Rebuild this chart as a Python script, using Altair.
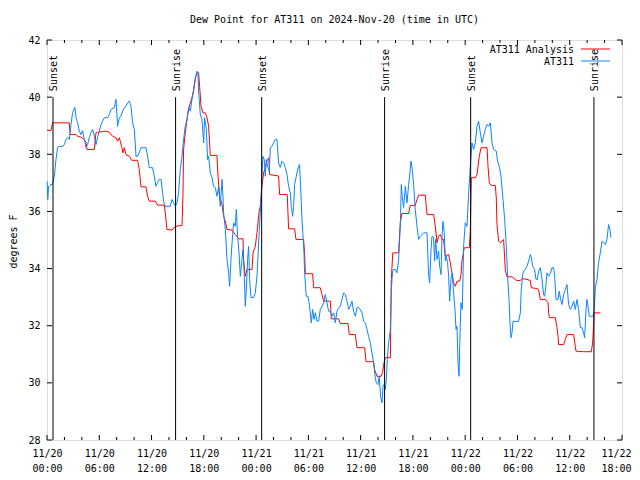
import altair as alt
import pandas as pd

# ---------------- data (hours since 2024-11-20 00:00 UTC, dew point degF) -------------
at311_hours = [0.01, 0.09, 0.18, 0.46, 0.64, 0.84, 1.03, 1.22, 1.41, 1.79, 1.99, 2.18, 2.36, 2.56,
               2.75, 2.94, 3.21, 3.33, 3.51, 3.71, 3.90, 4.09, 4.28, 4.48, 4.66, 4.86, 5.05, 5.23,
               5.43, 5.62, 5.81, 6.00, 6.20, 6.38, 6.58, 6.96, 7.15, 7.35, 7.73, 7.92, 8.10, 8.30,
               8.49, 8.68, 8.87, 9.07, 9.25, 9.45, 9.64, 9.83, 10.02, 10.22, 10.40, 10.59, 10.79,
               11.36, 11.55, 11.74, 12.12, 12.32, 12.51, 12.70, 12.89, 13.09, 13.27, 13.38, 13.58,
               14.15, 14.35, 14.53, 14.73, 14.92, 15.11, 15.30, 15.50, 15.68, 15.87, 16.07, 16.25,
               16.45, 16.64, 16.83, 17.02, 17.22, 17.33, 17.40, 17.60, 17.79, 17.98, 18.09, 18.29,
               18.43, 18.55, 18.74, 18.94, 19.12, 19.32, 19.51, 19.70, 19.89, 20.09, 20.20, 20.27,
               20.47, 20.66, 20.85, 20.96, 21.12, 21.24, 21.42, 21.61, 21.73, 21.88, 22.04, 22.19,
               22.38, 22.50, 22.65, 22.76, 22.88, 23.03, 23.14, 23.26, 23.42, 23.71, 23.91, 24.10,
               24.22, 24.37, 24.48, 24.60, 24.71, 24.79, 24.94, 25.06, 25.17, 25.32, 25.52, 25.63,
               25.83, 26.01, 26.21, 26.40, 26.58, 26.78, 26.97, 27.16, 27.35, 27.55, 27.73, 27.93,
               28.04, 28.19, 28.31, 28.42, 28.58, 28.73, 28.88, 28.99, 29.11, 29.19, 29.27, 29.38,
               29.50, 29.57, 29.65, 29.76, 29.96, 30.11, 30.22, 30.34, 30.49, 30.65, 30.80, 30.99,
               31.18, 31.37, 31.57, 31.75, 31.94, 32.14, 32.32, 32.52, 32.71, 32.90, 33.09, 33.29,
               33.47, 33.67, 33.86, 34.05, 34.24, 34.44, 34.62, 34.81, 35.01, 35.19, 35.39, 35.58,
               35.77, 35.96, 36.16, 36.34, 36.54, 36.73, 36.91, 37.11, 37.30, 37.49, 37.68, 37.80,
               37.99, 38.14, 38.29, 38.45, 38.57, 38.68, 38.83, 38.95, 39.06, 39.21, 39.41, 39.52,
               39.67, 39.78, 39.98, 40.17, 40.36, 40.55, 40.67, 40.78, 40.93, 41.13, 41.32, 41.51,
               41.62, 41.78, 41.93, 42.08, 42.27, 42.47, 42.65, 42.85, 43.23, 43.62, 43.80, 43.92,
               44.08, 44.19, 44.38, 44.49, 44.61, 44.77, 44.95, 45.07, 45.23, 45.34, 45.45, 45.60,
               45.72, 45.83, 45.98, 46.10, 46.21, 46.37, 46.52, 46.67, 46.83, 46.95, 47.06, 47.18,
               47.29, 47.41, 47.52, 47.67, 47.82, 48.01, 48.21, 48.39, 48.59, 48.78, 48.97, 49.16,
               49.36, 49.54, 49.74, 49.93, 50.11, 50.31, 50.51, 50.69, 50.89, 51.08, 51.26, 51.57,
               51.72, 51.92, 52.11, 52.34, 52.53, 52.72, 52.87, 53.03, 53.15, 53.26, 53.38, 53.49,
               53.75, 54.13, 54.33, 54.44, 54.59, 54.71, 54.90, 55.10, 55.28, 55.48, 55.59, 55.74,
               55.97, 56.13, 56.28, 56.43, 56.62, 56.82, 57.00, 57.12, 57.28, 57.39, 57.58, 57.77,
               57.97, 58.15, 58.27, 58.43, 58.66, 58.80, 58.95, 59.11, 59.30, 59.49, 59.69, 59.87,
               60.07, 60.26, 60.45, 60.64, 60.84, 61.02, 61.22, 61.41, 61.59, 61.71, 61.87, 61.98,
               62.10, 62.25, 62.48, 62.67, 62.82, 62.94, 63.13, 63.31, 63.51, 63.71, 63.89, 64.08,
               64.28, 64.46, 64.62, 64.73]
at311_dewpt = [37.05, 36.42, 36.87, 36.94, 36.94, 37.23, 37.82, 38.24, 38.28, 38.27, 38.34, 38.52,
               38.59, 38.52, 39.04, 39.46, 39.64, 39.29, 39.11, 38.81, 38.69, 38.83, 38.52, 38.24,
               38.34, 38.59, 38.76, 38.87, 38.63, 38.34, 38.59, 38.81, 39.04, 39.16, 39.28, 39.28,
               39.39, 39.57, 39.63, 39.92, 38.98, 39.28, 39.33, 39.51, 39.63, 39.68, 39.80, 39.86,
               39.68, 39.10, 38.87, 37.93, 37.93, 38.06, 38.23, 38.23, 37.93, 37.53, 37.53, 37.23,
               36.88, 37.01, 37.12, 37.12, 36.66, 36.36, 36.18, 36.18, 36.42, 36.30, 36.18, 36.30,
               36.66, 37.47, 37.93, 38.52, 38.98, 39.22, 39.63, 39.51, 39.92, 40.21, 40.62, 40.91,
               40.79, 40.21, 39.39, 39.22, 38.40, 39.28, 38.87, 37.82, 37.93, 37.35, 37.18, 36.88,
               36.83, 36.53, 36.88, 36.18, 37.12, 36.53, 35.95, 35.37, 34.32, 33.85, 33.38, 34.32,
               34.90, 35.60, 35.48, 36.07, 35.13, 34.55, 33.73, 34.32, 34.67, 33.73, 32.68, 33.27,
               34.32, 34.78, 33.62, 32.98, 32.98, 33.15, 33.73, 34.43, 35.37, 35.95, 36.65, 37.47,
               37.93, 37.82, 37.23, 37.82, 37.58, 37.41, 38.23, 38.28, 38.40, 38.52, 38.52, 37.70,
               37.54, 37.76, 37.70, 37.54, 37.29, 36.88, 36.65, 36.18, 35.83, 36.18, 36.94, 37.18,
               37.41, 37.58, 37.64, 36.88, 36.30, 35.66, 35.19, 34.55, 33.85, 33.50, 33.03, 33.03,
               32.74, 32.45, 32.10, 32.57, 32.22, 32.45, 32.16, 32.16, 32.57, 32.68, 32.80, 33.09,
               32.80, 32.51, 32.51, 32.33, 32.45, 32.10, 32.51, 32.63, 32.68, 32.92, 33.15, 33.09,
               32.86, 32.57, 32.68, 32.86, 32.51, 32.33, 32.63, 32.63, 32.57, 32.45, 32.16, 32.10,
               31.87, 31.63, 31.40, 31.05, 30.70, 30.18, 30.00, 29.94, 30.23, 29.53, 29.30, 29.88,
               29.94, 29.77, 30.12, 30.82, 31.40, 31.87, 33.27, 33.91, 33.97, 33.97, 33.85, 34.32,
               35.48, 36.94, 36.53, 36.13, 36.88, 36.30, 36.94, 37.23, 37.76, 37.47, 36.94, 36.07,
               35.48, 35.02, 35.13, 35.25, 35.25, 33.79, 33.50, 34.67, 35.13, 35.09, 34.26, 35.02,
               34.32, 34.61, 34.08, 33.79, 35.13, 35.66, 35.25, 34.26, 34.43, 34.20, 33.73, 32.86,
               33.62, 33.85, 33.15, 32.57, 31.87, 31.98, 30.70, 30.23, 31.75, 32.80, 32.57, 34.78,
               35.60, 35.48, 36.59, 37.58, 38.40, 38.17, 38.40, 38.98, 39.16, 38.75, 38.40, 38.63,
               38.87, 39.04, 38.98, 39.10, 38.40, 38.17, 38.11, 37.76, 37.58, 37.23, 36.42, 35.72,
               34.78, 33.73, 32.92, 32.04, 31.58, 31.76, 32.16, 32.15, 32.15, 32.45, 33.27, 33.79,
               33.91, 33.97, 34.08, 34.26, 34.49, 34.39, 34.08, 33.97, 33.62, 33.62, 33.91, 34.03,
               33.62, 33.09, 33.03, 33.44, 33.85, 33.73, 33.83, 34.03, 34.03, 33.73, 32.92, 32.92,
               33.21, 32.92, 32.74, 33.09, 33.27, 33.44, 32.74, 32.57, 32.68, 32.86, 32.57, 32.92,
               32.57, 31.93, 31.93, 31.75, 31.58, 32.57, 32.92, 32.68, 32.33, 32.33, 32.33, 32.57,
               33.33, 33.62, 34.20, 34.55, 34.96, 34.91, 34.84, 35.02, 35.54, 35.37, 35.08]

analysis_hours = [0.00, 0.46, 0.64, 2.56, 2.67, 3.33, 3.51, 3.90, 4.28, 4.48, 4.59, 5.43, 5.62,
                  5.81, 6.77, 7.15, 7.53, 7.92, 8.10, 8.30, 8.41, 8.56, 8.72, 8.87, 9.07, 9.45,
                  9.71, 10.40, 10.59, 10.79, 11.36, 11.55, 11.74, 12.43, 12.70, 13.46, 13.58,
                  13.77, 14.35, 14.73, 15.50, 15.61, 15.68, 15.87, 16.07, 16.25, 16.45, 16.64,
                  16.83, 17.02, 17.22, 17.40, 17.52, 17.68, 17.91, 18.17, 18.37, 18.55, 18.74,
                  19.51, 19.63, 19.81, 20.09, 20.27, 20.47, 20.66, 21.24, 21.61, 21.99, 22.50,
                  22.57, 22.76, 22.96, 23.53, 23.65, 23.91, 24.10, 24.33, 24.48, 24.68, 24.86,
                  25.06, 25.25, 25.46, 25.55, 26.58, 26.70, 27.58, 27.66, 27.73, 28.42, 28.58,
                  29.45, 29.57, 29.65, 30.49, 30.60, 31.37, 31.57, 31.75, 32.52, 32.63, 33.47,
                  33.67, 34.55, 34.70, 35.39, 35.58, 36.46, 36.62, 37.49, 37.60, 37.88, 38.37,
                  38.52, 38.68, 38.83, 39.41, 39.52, 39.69, 40.36, 40.55, 40.75, 41.51, 41.70,
                  42.27, 42.47, 42.65, 43.42, 43.62, 44.38, 44.57, 44.77, 44.95, 45.15, 45.34,
                  45.52, 45.72, 46.10, 46.29, 46.49, 46.67, 46.87, 47.06, 47.36, 47.52, 47.63,
                  47.90, 48.47, 48.59, 48.70, 49.16, 49.36, 49.47, 49.62, 49.82, 50.51, 50.62,
                  50.77, 51.00, 51.46, 51.57, 51.65, 51.84, 52.03, 52.41, 52.61, 52.80, 53.38,
                  53.75, 53.95, 54.33, 54.52, 55.10, 55.48, 55.59, 56.24, 56.43, 56.62, 57.20,
                  57.51, 57.58, 57.66, 58.35, 58.54, 58.66, 58.72, 59.30, 59.49, 59.69, 60.45,
                  60.64, 60.72, 61.59, 62.48, 62.63, 62.75, 62.82, 63.51]
analysis_dewpt = [38.84, 38.84, 39.10, 39.10, 38.69, 38.69, 38.63, 38.60, 38.52, 38.41, 38.17,
                  38.17, 38.75, 38.77, 38.81, 38.77, 38.63, 38.58, 38.46, 38.58, 38.46, 38.28,
                  38.05, 38.23, 37.99, 37.93, 37.79, 37.79, 37.47, 36.86, 36.86, 36.53, 36.36,
                  36.36, 36.22, 36.22, 35.95, 35.37, 35.35, 35.48, 35.51, 36.65, 38.17, 38.75,
                  39.22, 39.57, 39.80, 39.98, 40.27, 40.68, 40.85, 40.85, 40.38, 39.68, 39.45,
                  39.45, 39.28, 38.98, 37.96, 37.96, 37.23, 36.53, 36.24, 35.83, 35.66, 35.37,
                  35.35, 35.19, 35.04, 35.04, 34.32, 33.73, 33.97, 33.97, 34.55, 34.78, 35.25,
                  35.95, 36.18, 36.88, 37.35, 37.53, 37.76, 37.88, 37.29, 37.24, 36.59, 36.59,
                  35.95, 35.39, 35.39, 35.02, 35.02, 34.55, 33.82, 33.82, 33.33, 33.33, 33.09,
                  32.86, 32.86, 32.24, 32.24, 32.08, 32.08, 31.69, 31.69, 31.23, 31.23, 30.74,
                  30.74, 30.47, 30.23, 30.23, 30.36, 30.70, 30.88, 30.88, 33.62, 34.55, 34.55,
                  35.60, 35.93, 35.93, 36.21, 36.21, 36.42, 36.57, 36.57, 35.89, 35.89, 35.48,
                  34.90, 35.13, 35.19, 35.02, 35.02, 34.43, 34.49, 34.20, 33.85, 33.50, 33.38,
                  33.56, 33.56, 33.79, 34.26, 34.73, 34.73, 35.31, 37.18, 37.18, 37.29, 37.58,
                  37.93, 38.23, 38.23, 37.58, 37.00, 36.91, 36.91, 36.48, 35.54, 34.96, 34.90,
                  35.02, 33.93, 33.71, 33.71, 33.62, 33.58, 33.58, 33.65, 33.62, 33.58, 33.33,
                  33.30, 33.27, 32.92, 32.92, 32.80, 32.45, 32.28, 32.28, 31.93, 31.63, 31.34,
                  31.34, 31.51, 31.69, 31.69, 31.28, 31.11, 31.09, 31.09, 31.40, 32.10, 32.45,
                  32.45]

sun_hours = [0.69, 14.76, 24.64, 38.75, 48.63, 62.78]
sun_labels = ["Sunset", "Sunrise", "Sunset", "Sunrise", "Sunset", "Sunrise"]

major_x_ticks = list(range(0, 67, 6))
minor_x_ticks = [h for h in range(0, 67, 2) if h % 6 != 0]
y_ticks = [28, 30, 32, 34, 36, 38, 40, 42]

series_names = ["AT311 Analysis", "AT311"]
series_colors = ["#FF0000", "#0A84FF"]
title_text = "Dew Point for AT311 on 2024-Nov-20 (time in UTC)"

# ---------------- chart ----------------
FONT = "DejaVu Sans Mono"
FS = 10
W, H = 575, 400
LAST = major_x_ticks[-1]

xs = alt.Scale(domain=[0, 66], nice=False, zero=False)
ys = alt.Scale(domain=[28, 42], nice=False, zero=False)

x_axis = alt.Axis(
    values=major_x_ticks,
    labelExpr="['11/' + (20 + floor(datum.value / 24)), ((datum.value % 24) < 10 ? '0' : '') + (datum.value % 24) + ':00']",
    ticks=False, domain=False, grid=False,
    labelFont=FONT, labelFontSize=FS, labelColor="black",
    labelPadding=8, labelBaseline="top", labelLineHeight=15,
    labelFlush=False, labelOverlap=False, labelAngle=0, title=None,
    labelAlign={"condition": {"test": f"datum.value == {LAST}", "value": "right"}, "value": "center"},
    labelOffset={"condition": {"test": f"datum.value == {LAST}", "value": 9}, "value": 0},
)
y_axis = alt.Axis(
    values=y_ticks, ticks=False, domain=False, grid=False,
    labelFont=FONT, labelFontSize=FS, labelColor="black", labelPadding=7,
    title="degrees F", titleFont=FONT, titleFontSize=FS, titleFontWeight="normal",
    titleColor="black", titleX=-34, titleY=201, titleAngle=270,
    titleAlign="center", titleBaseline="middle",
)


def X(field="h"):
    return alt.X(f"{field}:Q", scale=xs, axis=x_axis)


def Y(field="v"):
    return alt.Y(f"{field}:Q", scale=ys, axis=y_axis)


df_ana = pd.DataFrame({"h": analysis_hours, "v": analysis_dewpt})
df_obs = pd.DataFrame({"h": at311_hours, "v": at311_dewpt})
df_sun = pd.DataFrame({"h": sun_hours, "label": sun_labels})
df_major = pd.DataFrame({"h": major_x_ticks})
df_minor = pd.DataFrame({"h": minor_x_ticks})
df_y = pd.DataFrame({"v": y_ticks})

ana_line = alt.Chart(df_ana).mark_line(color=series_colors[0], strokeWidth=1).encode(x=X(), y=Y())
obs_line = alt.Chart(df_obs).mark_line(color=series_colors[1], strokeWidth=1).encode(x=X(), y=Y())

sun_rule = alt.Chart(df_sun).mark_rule(color="black", strokeWidth=1).encode(
    x=X(),
    y=alt.Y(datum=28, type="quantitative", scale=ys, axis=y_axis),
    y2=alt.Y2(datum=40),
)
sun_text = alt.Chart(df_sun).mark_text(
    angle=270, align="left", baseline="middle", font=FONT, fontSize=FS, color="black", dy=1
).encode(
    x=X(),
    y=alt.Y(datum=40.21, type="quantitative", scale=ys, axis=y_axis),
    text="label:N",
)

tick_layers = []
for df_t, ln in ((df_major, 5), (df_minor, 3)):
    tick_layers.append(alt.Chart(df_t).mark_rule(color="black", strokeWidth=1).encode(
        x=X(), y=alt.value(H), y2=alt.value(H - ln)))
    tick_layers.append(alt.Chart(df_t).mark_rule(color="black", strokeWidth=1).encode(
        x=X(), y=alt.value(0), y2=alt.value(ln)))
tick_layers.append(alt.Chart(df_y).mark_rule(color="black", strokeWidth=1).encode(
    y=Y(), x=alt.value(0), x2=alt.value(5)))
tick_layers.append(alt.Chart(df_y).mark_rule(color="black", strokeWidth=1).encode(
    y=Y(), x=alt.value(W - 5), x2=alt.value(W)))

# legend (drawn in pixel space, top right)
legend_layers = []
for i, (name, col) in enumerate(zip(series_names, series_colors)):
    ty = 10 + i * 12
    legend_layers.append(alt.Chart(pd.DataFrame({"t": [name]})).mark_text(
        align="right", baseline="middle", font=FONT, fontSize=FS, color="black"
    ).encode(x=alt.value(527), y=alt.value(ty), text="t:N"))
    legend_layers.append(alt.Chart(pd.DataFrame({"t": [name]})).mark_rule(
        color=col, strokeWidth=1
    ).encode(x=alt.value(534), x2=alt.value(563), y=alt.value(ty - 1)))

chart = alt.layer(
    ana_line, obs_line, sun_rule, sun_text, *tick_layers, *legend_layers
).properties(
    width=W, height=H,
    title=alt.TitleParams(title_text, font=FONT, fontSize=FS, fontWeight="normal",
                          color="black", anchor="middle", offset=10),
    autosize=alt.AutoSizeParams(type="none"),
    padding={"left": 39, "top": 32, "right": 10, "bottom": 38},
).configure_view(
    stroke="black", strokeWidth=1
).configure(background="white")

chart.save("out.html", embed_options={"renderer": "svg", "actions": False})
